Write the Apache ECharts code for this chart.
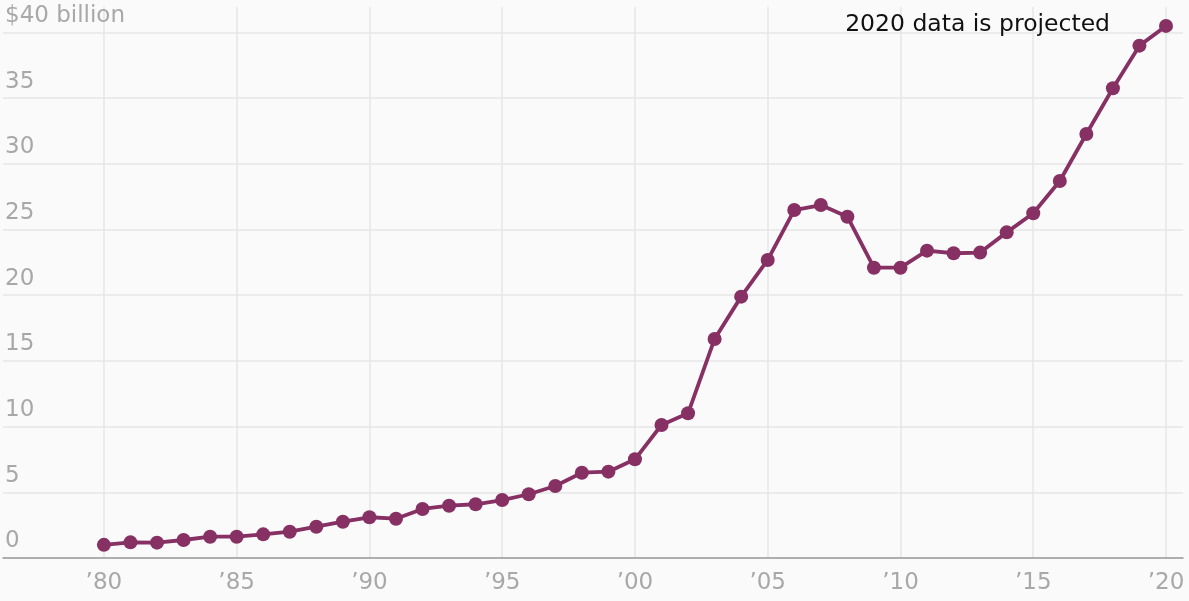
<!DOCTYPE html>
<html>
<head>
<meta charset="utf-8">
<script src="https://cdn.jsdelivr.net/npm/echarts@6/dist/echarts.min.js"></script>
<style>
html,body{margin:0;padding:0;background:#fafafa;}
#chart{width:1189px;height:601px;}
</style>
</head>
<body>
<div id="chart"></div>
<script>
const years = [1980,1981,1982,1983,1984,1985,1986,1987,1988,1989,1990,1991,1992,1993,1994,1995,1996,1997,1998,1999,2000,2001,2002,2003,2004,2005,2006,2007,2008,2009,2010,2011,2012,2013,2014,2015,2016,2017,2018,2019,2020];
const values = [1.0,1.19,1.17,1.37,1.62,1.62,1.8,2.0,2.38,2.76,3.1,2.99,3.73,3.98,4.09,4.41,4.85,5.48,6.49,6.57,7.51,10.12,11.01,16.67,19.89,22.68,26.48,26.86,25.97,22.09,22.09,23.39,23.19,23.24,24.78,26.23,28.69,32.27,35.75,38.99,40.49];
const xTicks = [1980,1985,1990,1995,2000,2005,2010,2015,2020];
const yTicks = [0,5,10,15,20,25,30,35,40];
const note = '2020 data is projected';

const chart = echarts.init(document.getElementById('chart'));
const font = 'DejaVu Sans';
chart.setOption({
  backgroundColor: '#fafafa',
  animation: false,
  grid: {left: 3, right: 6, top: 7, bottom: 43, containLabel: false},
  xAxis: {
    type: 'value',
    min: 1976.2,
    max: 2020.64,
    axisLine: {show: true, lineStyle: {color: '#9a9a9a', width: 1.5}},
    axisTick: {show: false, customValues: xTicks},
    axisLabel: {
      customValues: xTicks,
      formatter: v => '\u2019' + String(v).slice(2),
      color: '#a8a8a8', fontFamily: font, fontSize: 23, margin: 14
    },
    splitLine: {show: true, lineStyle: {color: '#e6e6e6', width: 1.5}}
  },
  yAxis: {
    type: 'value',
    min: 0,
    max: 41.93,
    axisLine: {show: false},
    axisTick: {show: false, customValues: yTicks},
    axisLabel: {
      customValues: yTicks,
      inside: true,
      margin: 2,
      verticalAlign: 'bottom',
      padding: [0,0,5,0],
      formatter: v => v === 40 ? '$40 billion' : String(v),
      color: '#a8a8a8', fontFamily: font, fontSize: 23
    },
    splitLine: {show: true, lineStyle: {color: '#e6e6e6', width: 1.5}}
  },
  graphic: [{
    type: 'text',
    z: 100,
    x: 1110, y: 25,
    style: {text: note, align: 'right', verticalAlign: 'middle', fill: '#111', font: '23.5px "DejaVu Sans"'}
  }],
  series: [{
    type: 'line',
    data: years.map((y, i) => [y, values[i]]),
    symbol: 'circle',
    symbolSize: 14,
    lineStyle: {color: '#863064', width: 3.8},
    itemStyle: {color: '#863064'},
    clip: false
  }]
});
</script>
</body>
</html>
